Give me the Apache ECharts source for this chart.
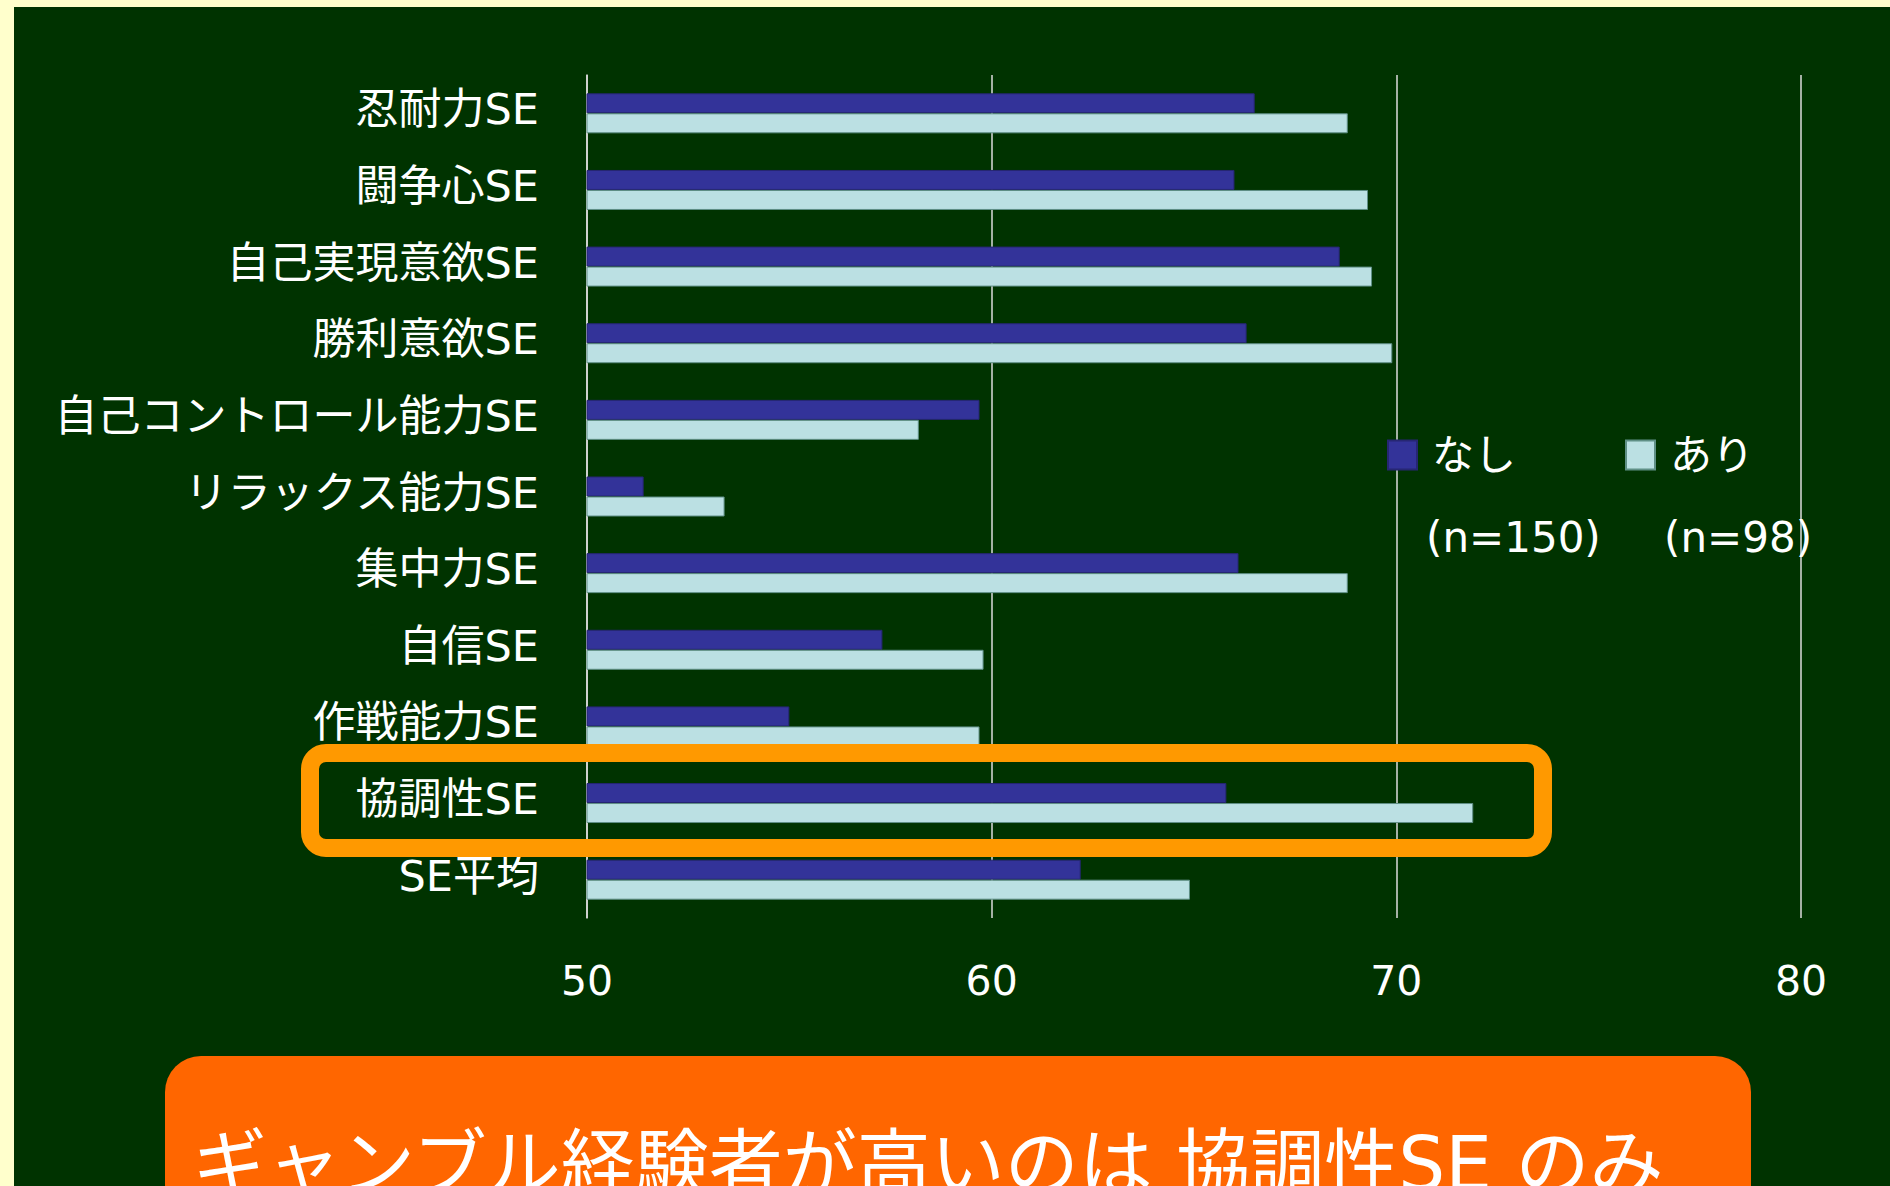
<!DOCTYPE html>
<html><head><meta charset="utf-8">
<script src="https://cdn.jsdelivr.net/npm/echarts@6/dist/echarts.min.js"></script>
<style>
html,body{margin:0;padding:0;background:#FFFFCC;width:1890px;height:1186px;overflow:hidden}
#chart{position:absolute;left:14px;top:7px;width:1876px;height:1179px;background:#003300}
</style></head><body><div id="chart"></div>
<script>
const categories = ['忍耐力SE','闘争心SE','自己実現意欲SE','勝利意欲SE','自己コントロール能力SE','リラックス能力SE','集中力SE','自信SE','作戦能力SE','協調性SE','SE平均'];
const nashiValues = [66.5, 66.0, 68.6, 66.3, 59.7, 51.4, 66.1, 57.3, 55.0, 65.8, 62.2];
const ariValues   = [68.8, 69.3, 69.4, 69.9, 58.2, 53.4, 68.8, 59.8, 59.7, 71.9, 64.9];
const seriesNames = ['なし','あり'];
const sampleLabels = ['(n=150)','(n=98)'];
const axisMin = 50, axisMax = 80, axisInterval = 10;
const highlightCategory = '協調性SE';
const conclusion = 'ギャンブル経験者が高いのは 協調性SE のみ';

const FONT = "'DejaVu Sans', 'Noto Sans CJK JP', sans-serif";
const chart = echarts.init(document.getElementById('chart'), null, {renderer:'svg'});
const option = {
  backgroundColor: '#003300',
  animation: false,
  grid: {left: 573, right: 89, top: 68, bottom: 268},
  legend: [
    {data:[seriesNames[0]], left:1368, top:422, itemWidth:29, itemHeight:29, icon:'rect',
     textStyle:{color:'#fff', fontSize:42, fontFamily:FONT, padding:[0,0,8,10]}},
    {data:[seriesNames[1]], left:1606, top:422, itemWidth:29, itemHeight:29, icon:'rect',
     textStyle:{color:'#fff', fontSize:42, fontFamily:FONT, padding:[0,0,8,10]}}
  ],
  xAxis: {
    type:'value', min:axisMin, max:axisMax, interval:axisInterval,
    axisLine:{show:false}, axisTick:{show:false},
    axisLabel:{color:'#fff', fontSize:41, fontFamily:FONT, margin:42},
    splitLine:{show:true, lineStyle:{color:'#dddddd', width:1.5}}
  },
  yAxis: {
    type:'category', data:categories, inverse:true,
    axisLine:{show:true, lineStyle:{color:'#dddddd', width:1.5}},
    axisTick:{show:false},
    axisLabel:{color:'#fff', fontSize:43, fontFamily:FONT, margin:48, verticalAlign:'bottom', lineHeight:8}
  },
  series: [
    {name:seriesNames[0], type:'bar', data:nashiValues, barWidth:20, barGap:'0%',
     itemStyle:{color:'#333399', borderColor:'#262673', borderWidth:1}},
    {name:seriesNames[1], type:'bar', data:ariValues, barWidth:20, barGap:'0%',
     itemStyle:{color:'#BBE0E3', borderColor:'#5f8f86', borderWidth:1}}
  ]
};
chart.setOption(option);
const cy = chart.convertToPixel({yAxisIndex:0}, highlightCategory);
chart.setOption({
  graphic: [
    {type:'rect', shape:{x:296, y:cy-50, width:1233, height:95, r:16}, z:100,
     style:{fill:'none', stroke:'#FF9900', lineWidth:18}},
    {type:'text', x:1412, y:530, z:100, style:{text:sampleLabels[0], fill:'#fff', font:'42px ' + FONT, verticalAlign:'middle'}},
    {type:'text', x:1650, y:530, z:100, style:{text:sampleLabels[1], fill:'#fff', font:'42px ' + FONT, verticalAlign:'middle'}},
    {type:'rect', shape:{x:151, y:1049, width:1586, height:300, r:36}, z:100, style:{fill:'#FF6600'}},
    {type:'text', x:179, y:1120, z:101, style:{text:conclusion, fill:'#fff', font:'74px ' + FONT, verticalAlign:'top'}}
  ]
});
</script></body></html>
